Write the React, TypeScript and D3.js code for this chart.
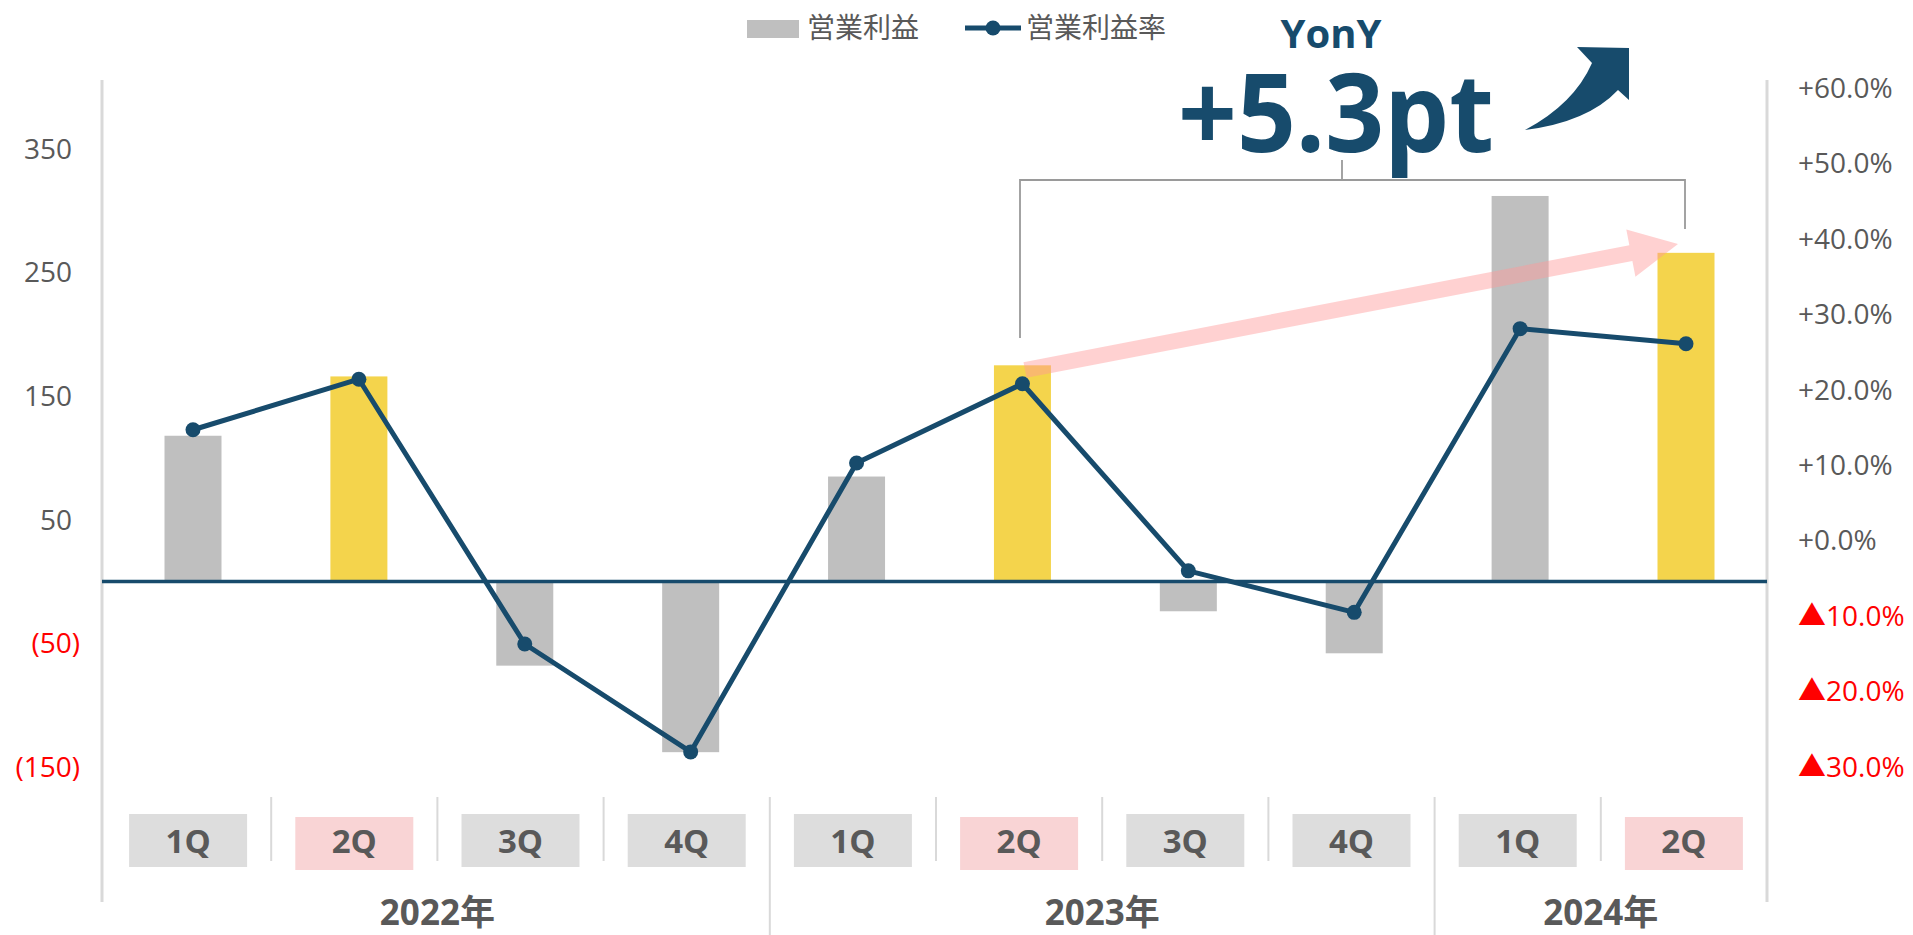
import React from 'react';
import * as d3 from 'd3';

// quarterly operating profit (bars, left axis) and margin % (line, right axis)
const quarters = ['1Q', '2Q', '3Q', '4Q', '1Q', '2Q', '3Q', '4Q', '1Q', '2Q'];
const years = ['2022年', '2023年', '2024年'];
const yearOfQuarter = [0, 0, 0, 0, 1, 1, 1, 1, 2, 2];
const operatingProfit = [118, 166, -68, -138, 85, 175, -24, -58, 312, 266];
const operatingMargin = [14.7, 21.4, -13.7, -28.0, 10.3, 20.8, -4.0, -9.5, 28.1, 26.1];
const leftTicks = [350, 250, 150, 50, -50, -150];
const rightTicks = [60, 50, 40, 30, 20, 10, 0, -10, -20, -30];
const legendLabels = ['営業利益', '営業利益率'];
const yoyTitle = 'YonY';
const yoyValue = '+5.3pt';

const W = 1913;
const H = 935;
const NAVY = '#174B6C';
const GRAY_BAR = '#BFBFBF';
const YELLOW = '#F4D44C';
const AXIS = '#D9D9D9';
const TEXT = '#595959';
const RED = '#FF0000';
const LATIN = '"Open Sans", "Noto Sans CJK JP", sans-serif';
const CJK = '"Noto Sans CJK JP", "Open Sans", sans-serif';

const idx = d3.range(quarters.length);
const xPoint = d3.scalePoint<number>().domain(idx).range([193, 1686]);
const xBand = d3.scaleBand<number>().domain(idx).range([105, 1767]);
const yL = d3.scaleLinear().domain([-150, 350]).range([767, 149]);
const yR = d3.scaleLinear().domain([-30, 60]).range([767, 88]);

const BAR_W = 57;
const plotLeft = 102;
const plotRight = 1767;

const fmtLeft = (v: number) => (v >= 0 ? `${v}` : `(${-v})`);

const marginLine = d3
  .line<number>()
  .x((i) => xPoint(i) as number)
  .y((i) => yR(operatingMargin[i]));

export default function App() {
  const is2Q = (i: number) => quarters[i] === '2Q';

  // year groups for bottom labels
  const groups = years.map((label, y) => {
    const members = idx.filter((i) => yearOfQuarter[i] === y);
    const x0 = xBand(members[0]) as number;
    const x1 = (xBand(members[members.length - 1]) as number) + xBand.bandwidth();
    return { label, cx: (x0 + x1) / 2 };
  });

  // pink arrow geometry (2Q23 -> 2Q24)
  const ax0 = 1025, ay0 = 370, ax1 = 1678, ay1 = 244;
  const aLen = Math.hypot(ax1 - ax0, ay1 - ay0);
  const aAng = (Math.atan2(ay1 - ay0, ax1 - ax0) * 180) / Math.PI;
  const headL = 48, headW = 24, shaftW = 8;
  const pinkArrow = `M0,${-shaftW} L${aLen - headL},${-shaftW} L${aLen - headL},${-headW} L${aLen},0 L${aLen - headL},${headW} L${aLen - headL},${shaftW} L0,${shaftW} Z`;

  return (
    <svg
      width={W}
      height={H}
      style={{ position: 'absolute', left: 0, top: 0, display: 'block', background: '#fff' }}
    >
      {/* axis lines */}
      <line x1={plotLeft} x2={plotLeft} y1={80} y2={902} stroke={AXIS} strokeWidth={3} />
      <line x1={plotRight} x2={plotRight} y1={80} y2={902} stroke={AXIS} strokeWidth={3} />

      {/* left ticks */}
      {leftTicks.map((v) => (
        <text
          key={'l' + v}
          x={v >= 0 ? 72 : 80}
          y={yL(v)}
          dy="0.35em"
          textAnchor="end"
          fontFamily={LATIN}
          fontSize={28}
          fill={v >= 0 ? TEXT : RED}
        >
          {fmtLeft(v)}
        </text>
      ))}

      {/* right ticks */}
      {rightTicks.map((v) => (
        <text
          key={'r' + v}
          x={1798}
          y={yR(v)}
          dy="0.35em"
          fontFamily={LATIN}
          fontSize={28}
          fill={v >= 0 ? TEXT : RED}
        >
          {v >= 0 ? (
            `+${v.toFixed(1)}%`
          ) : (
            <>
              <tspan fontFamily={CJK}>▲</tspan>
              {`${(-v).toFixed(1)}%`}
            </>
          )}
        </text>
      ))}

      {/* bars */}
      {idx.map((i) => {
        const v = operatingProfit[i];
        const y0 = yL(0);
        const y1 = yL(v);
        return (
          <rect
            key={'b' + i}
            x={(xPoint(i) as number) - BAR_W / 2}
            y={Math.min(y0, y1)}
            width={BAR_W}
            height={Math.abs(y1 - y0)}
            fill={is2Q(i) ? YELLOW : GRAY_BAR}
          />
        );
      })}

      {/* zero line */}
      <line x1={plotLeft} x2={plotRight} y1={yL(0)} y2={yL(0)} stroke={NAVY} strokeWidth={3.5} />

      {/* margin line */}
      <path d={marginLine(idx) || ''} fill="none" stroke={NAVY} strokeWidth={5} strokeLinejoin="round" />
      {idx.map((i) => (
        <circle key={'m' + i} cx={xPoint(i) as number} cy={yR(operatingMargin[i])} r={7.5} fill={NAVY} />
      ))}

      {/* pink YoY arrow */}
      <path
        d={pinkArrow}
        transform={`translate(${ax0},${ay0}) rotate(${aAng})`}
        fill="#FF9A9A"
        fillOpacity={0.45}
      />

      {/* bracket */}
      <g stroke="#9A9A9A" strokeWidth={1.8} fill="none">
        <path d="M1020,338 L1020,180 L1685,180 L1685,229" />
        <line x1={1342} x2={1342} y1={160} y2={180} />
      </g>

      {/* YoY text */}
      <text x={1331} y={48} textAnchor="middle" fontFamily={LATIN} fontWeight={700} fontSize={40} fill={NAVY}>
        {yoyTitle}
      </text>
      <text
        x={1178}
        y={152}
        fontFamily={LATIN}
        fontWeight={700}
        fontSize={110}
        textLength={316}
        lengthAdjust="spacingAndGlyphs"
        fill={NAVY}
      >
        {yoyValue}
      </text>

      {/* curved arrow */}
      <path
        d="M1525,130 Q1574,104 1592,63 L1577,47 L1629,48 L1629,100 L1618,90 Q1588,122 1525,130 Z"
        fill={NAVY}
      />

      {/* category boxes */}
      {idx.map((i) => {
        const cx = (xBand(i) as number) + xBand.bandwidth() / 2;
        const pink = is2Q(i);
        return (
          <g key={'c' + i}>
            <rect
              x={cx - 59}
              y={pink ? 817 : 814}
              width={118}
              height={53}
              fill={pink ? '#F9D4D5' : '#DDDDDD'}
            />
            <text
              x={cx}
              y={853}
              textAnchor="middle"
              fontFamily={LATIN}
              fontWeight={700}
              fontSize={33}
              fill={TEXT}
            >
              {quarters[i]}
            </text>
          </g>
        );
      })}

      {/* separators */}
      {idx.slice(1).map((i) => {
        const x = xBand(i) as number;
        const long = yearOfQuarter[i] !== yearOfQuarter[i - 1];
        return <line key={'s' + i} x1={x} x2={x} y1={797} y2={long ? 935 : 861} stroke={AXIS} strokeWidth={2} />;
      })}

      {/* year labels */}
      {groups.map((g) => (
        <text
          key={g.label}
          x={g.cx}
          y={925}
          textAnchor="middle"
          fontFamily={LATIN}
          fontWeight={700}
          fontSize={35}
          fill={TEXT}
        >
          {g.label}
        </text>
      ))}

      {/* legend */}
      <rect x={747} y={20} width={52} height={18} fill={GRAY_BAR} />
      <text x={807} y={38} fontFamily={CJK} fontSize={28} fill={TEXT}>
        {legendLabels[0]}
      </text>
      <line x1={965} x2={1021} y1={28} y2={28} stroke={NAVY} strokeWidth={5} />
      <circle cx={993} cy={28} r={7.5} fill={NAVY} />
      <text x={1026} y={38} fontFamily={CJK} fontSize={28} fill={TEXT}>
        {legendLabels[1]}
      </text>
    </svg>
  );
}
